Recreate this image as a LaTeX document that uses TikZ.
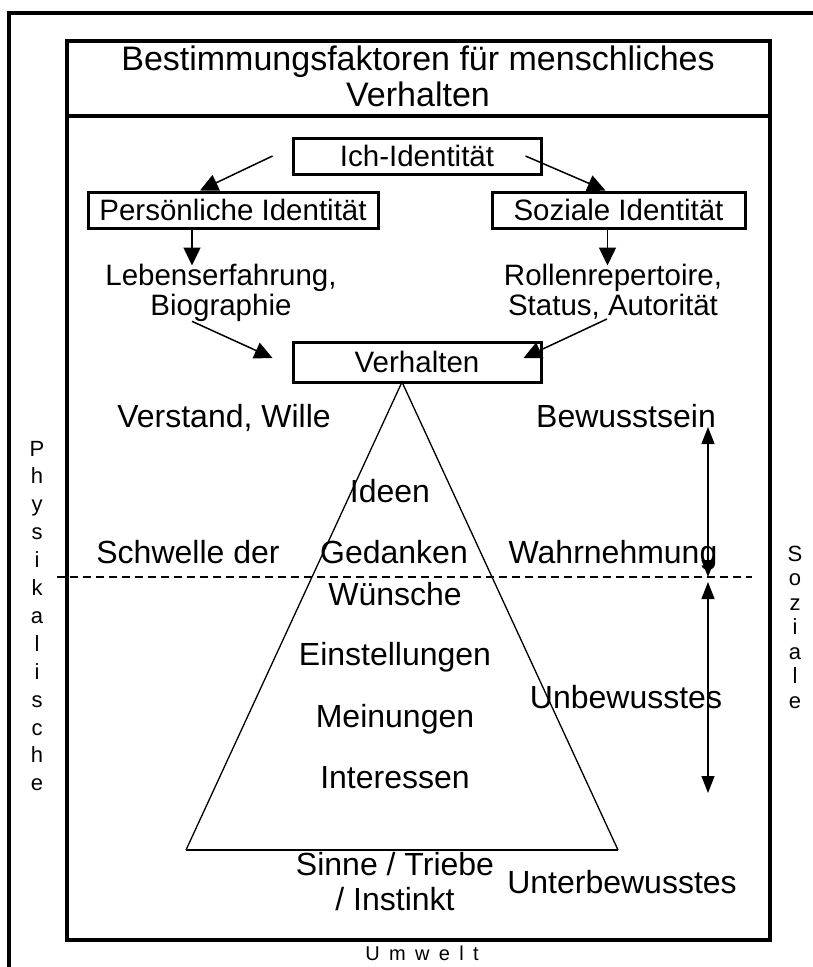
\documentclass[tikz,border=0pt]{standalone}
\usepackage{fontspec}
\setmainfont{Liberation Sans}
\usetikzlibrary{arrows.meta}

\begin{document}
\begin{tikzpicture}[x=1pt, y=-1pt,
  rahmen/.style={line width=4pt},
  kasten/.style={draw, line width=3pt, inner sep=0pt, minimum height=36pt, font=\fontsize{29.5}{30}\selectfont},
  txt/.style={anchor=base, inner sep=0pt, font=\fontsize{32}{35}\selectfont},
  klein/.style={anchor=base, inner sep=0pt, font=\fontsize{22}{24}\selectfont},
  pfeil/.style={line width=1.5pt, -{Triangle[length=18pt, width=17pt]}},
  dpfeil/.style={line width=1.2pt, {Triangle[length=17pt, width=13pt]}-{Triangle[length=17pt, width=13pt]}}]
	\useasboundingbox (0,0) rectangle (813,967);
	% Rahmen
	\draw[rahmen] (9,990) |- (840,13);
	\draw[rahmen] (67,41) rectangle (770,940);
	\draw[rahmen] (67,116) -- (770,116);
	\node[txt, align=center, font=\fontsize{34}{36}\selectfont] (titel) at (418,106) {Bestimmungsfaktoren für menschliches\\Verhalten};
	% Identitaet
	\node[kasten, minimum width=248pt] (ich) at (417,156) {Ich-Identität};
	\node[kasten, minimum width=290pt] (pers) at (233,210) {Persönliche Identität};
	\node[kasten, minimum width=253pt] (sozi) at (618.5,210) {Soziale Identität};
	\node[kasten, minimum width=248pt, minimum height=40pt] (verh) at (417,362) {Verhalten};
	\node[txt, align=center, font=\fontsize{29.5}{30}\selectfont] (leben) at (221,315) {Lebenserfahrung,\\Biographie};
	\node[txt, align=center, font=\fontsize{29.5}{30}\selectfont] (rollen) at (613,315) {Rollenrepertoire,\\Status, Autorität};
	\draw[pfeil] ([xshift=-19pt]ich.west) -- ([xshift=-33pt]pers.north);
	\draw[pfeil] ([xshift=-17pt]ich.east) -- ([xshift=-13pt]sozi.north);
	\draw[pfeil] ([xshift=-41pt]pers.south) -- ++(0,36);
	\draw[pfeil] ([xshift=-11pt]sozi.south) -- ++(0,36);
	\draw[pfeil] ([xshift=-29pt]leben.south) -- ([xshift=-19pt,yshift=4pt]verh.west);
	\draw[pfeil] ([xshift=-6pt]rollen.south) -- ([xshift=-19pt,yshift=4pt]verh.east);
	% Pyramide
	\coordinate (spitze) at (402,382);
	\coordinate (basisL) at (186,850);
	\coordinate (basisR) at (618,850);
	\draw[line width=1.3pt] (basisL) -- (spitze) -- (basisR);
	\draw[line width=2pt] (basisL) -- (basisR);
	\coordinate (schwL) at (57,577);
	\coordinate (schwR) at (752,577);
	\draw[line width=1.5pt, dash pattern=on 8pt off 5pt] (schwL) -- (schwR);
	\node[txt] (verstand) at (224,427) {Verstand, Wille};
	\node[txt] (bewusst) at (626,427) {Bewusstsein};
	\node[txt] (ideen) at (390,502) {Ideen};
	\node[txt] (schwelle) at (188,563) {Schwelle der};
	\node[txt] (gedanken) at (394,563) {Gedanken};
	\node[txt] (wahrn) at (613,563) {Wahrnehmung};
	\node[txt] (wuensche) at (395,605) {Wünsche};
	\node[txt] (einst) at (395,665) {Einstellungen};
	\node[txt] (mein) at (395,727) {Meinungen};
	\node[txt] (inter) at (395,788) {Interessen};
	\node[txt] (unbew) at (626,708) {Unbewusstes};
	\node[txt, align=center] (sinne) at (395,910) {Sinne / Triebe\\/ Instinkt};
	\node[txt] (unterb) at (622,893) {Unterbewusstes};
	\draw[dpfeil] ([xshift=-44pt]schwR |- bewusst.base) -- ([xshift=-44pt]schwR);
	\draw[dpfeil] ([xshift=-44pt,yshift=-5pt]schwR) -- ++(0,211);
	% Seiten
	\foreach \b [count=\i from 0] in {P,h,y,s,i,k,a,l,i,s,c,h,e}
		\node[klein] (phys-\i) at (37,456+27.9*\i) {\b};
	\foreach \b [count=\i from 0] in {S,o,z,i,a,l,e}
		\node[klein] (sozl-\i) at (795,561+24.5*\i) {\b};
	\node[klein, font=\fontsize{20}{22}\selectfont] (umwelt) at (422,960) {\addfontfeature{LetterSpace=19}U m w e l t};
\end{tikzpicture}
\end{document}
